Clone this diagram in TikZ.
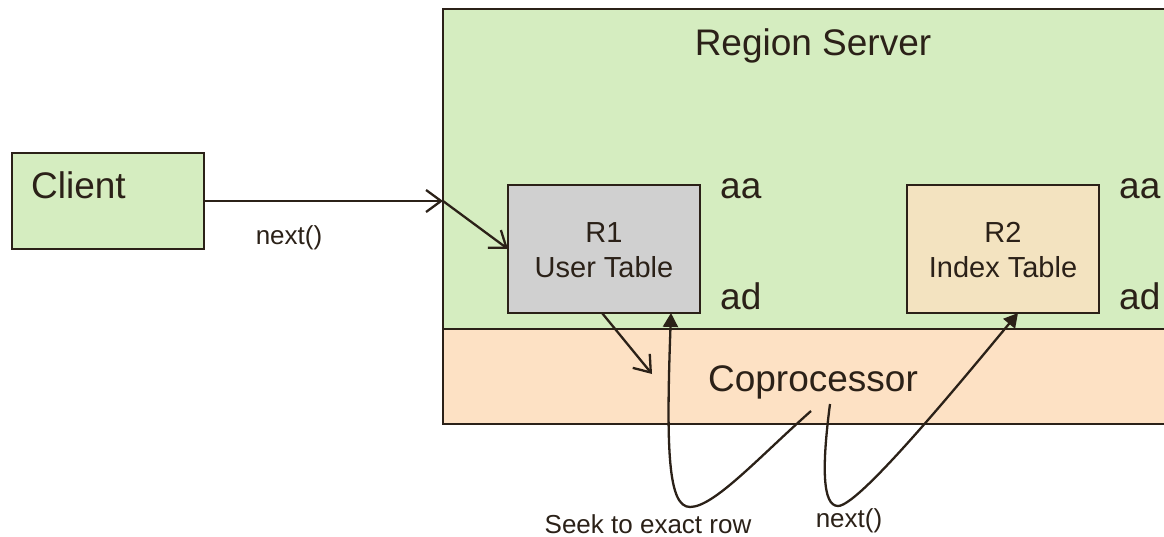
\documentclass[tikz,border=0pt]{standalone}
\usepackage{fontspec}
\setmainfont{Liberation Sans}
\usetikzlibrary{arrows.meta,calc}
\definecolor{ink}{RGB}{43,33,24}
\definecolor{rsgreen}{RGB}{213,237,192}
\definecolor{cppeach}{RGB}{253,225,196}
\definecolor{usergray}{RGB}{208,208,208}
\definecolor{idxtan}{RGB}{243,227,192}
\newcommand{\bigtext}{\fontsize{37}{40}\selectfont}
\newcommand{\midtext}{\fontsize{29}{32}\selectfont}
\newcommand{\smalltext}{\fontsize{26}{28}\selectfont}
\tikzset{
  box/.style={draw=ink, line width=2pt, inner sep=0pt, outer sep=0pt, anchor=north west},
  txt/.style={text=ink, inner sep=0pt, anchor=base},
  conn/.style={draw=ink, line width=2.3pt},
  barb/.style={conn, -{Straight Barb[length=15pt,width=22pt]}},
  solidtip/.style={conn, -{Triangle[length=14pt,width=15pt]}}
}
\begin{document}
\begin{tikzpicture}[x=1pt,y=-1pt]
\useasboundingbox (0,0) rectangle (1164,537);
\clip (0,0) rectangle (1164,537);

% region server and its coprocessor band (running past the right edge)
\node[box, fill=rsgreen, minimum width=760pt, minimum height=320pt] (rs) at (443,9) {};
\node[box, fill=cppeach, minimum width=760pt, minimum height=95pt] (cp) at (443,329) {};
\node[txt] (rslabel) at (813,56) {\bigtext Region Server};
\node[txt] (cplabel) at (813,391) {\bigtext Coprocessor};

% client
\node[box, fill=rsgreen, minimum width=192pt, minimum height=96pt] (client) at (12,153) {};
\node[txt, anchor=base west] (clientlabel) at (31,199) {\bigtext Client};

% regions
\node[box, fill=usergray, minimum width=192pt, minimum height=128pt] (r1) at (508,185) {};
\node[txt] (r1a) at (604,243) {\midtext R1};
\node[txt] (r1b) at (604,277) {\midtext User Table};
\node[box, fill=idxtan, minimum width=192pt, minimum height=128pt] (r2) at (907,185) {};
\node[txt] (r2a) at (1003,243) {\midtext R2};
\node[txt] (r2b) at (1003,277) {\midtext Index Table};

% key range labels
\node[txt, anchor=base west] (r1start) at (720,199) {\bigtext aa};
\node[txt, anchor=base west] (r1end) at (720,309) {\bigtext ad};
\node[txt, anchor=base west] (r2start) at (1119,199) {\bigtext aa};
\node[txt, anchor=base west] (r2end) at (1119,309) {\bigtext ad};

% client call into the region
\coordinate (entry) at (rs.west |- client.east);
\draw[barb] (client.east) -- (entry);
\draw[barb] (entry) -- (r1.west);
\node[txt] (nextlabel) at (289,245) {\smalltext next()};

% region hands the scan to the coprocessor
\coordinate (scanend) at (652,374);
\draw[barb] ([xshift=-2pt]r1.south) -- (scanend);

% seek back into the user table
\coordinate (seekstart) at (811,411);
\coordinate (seekturn) at (690,507);
\draw[solidtip] (seekstart) .. controls (758,458) and (714,507) .. (seekturn)
  .. controls (668,507) and (666,450) .. ([xshift=67pt]r1.south);
\node[txt] (seeklabel) at (648,533) {\smalltext Seek to exact row};

% next() on the index table
\coordinate (nextstart) at (830,404);
\coordinate (nextturn) at (838,506);
\draw[solidtip] (nextstart) .. controls (822,465) and (822,506) .. (nextturn)
  .. controls (858,506) and (950,395) .. ([xshift=15pt]r2.south);
\node[txt] (nextlabel2) at (849,527) {\smalltext next()};
\end{tikzpicture}
\end{document}
